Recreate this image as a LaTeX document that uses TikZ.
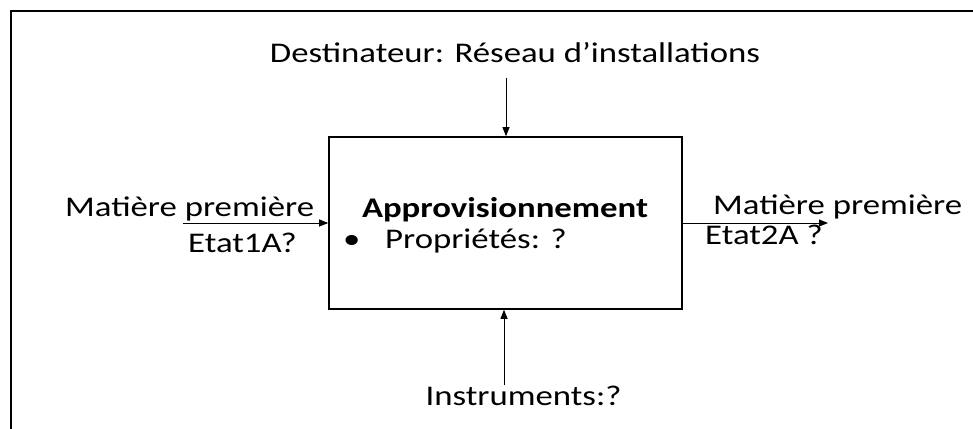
\documentclass[tikz,border=0pt]{standalone}
\usepackage{fontspec}
\setmainfont{Carlito}[FakeStretch=1.22]
\usepackage{tikz}
\usetikzlibrary{positioning,arrows.meta}

\begin{document}
\begin{tikzpicture}[x=1pt, y=1pt,
    lbl/.style={inner sep=0pt, font=\fontsize{28.5}{34}\selectfont},
    flow/.style={line width=0.9pt, -{Triangle[length=9pt, width=7pt]}}]
    \useasboundingbox (0,0) rectangle (973,428);
    \clip (0,0) rectangle (973,428);

    % Frame
    \draw[line width=2pt] (11,-20) -- (11,417) -- (990,417);

    % Process box
    \node[draw, line width=1.6pt, minimum width=353pt, minimum height=172pt, inner sep=0pt] (proc) at (505.5,205) {};
    \node[lbl, anchor=base] (title) at (505,210) {\bfseries Approvisionnement};
    \node[lbl, anchor=base west] (props) at (343,179) {\makebox[42pt][l]{•}Propriétés: ?};

    % Labels
    \node[lbl, anchor=base] (dst) at (515,365) {Destinateur: Réseau d’installations};
    \node[lbl, anchor=base] (instr) at (523.5,23) {Instruments:?};
    \node[lbl, anchor=base west] (inlbl) at (65,211) {Matière première};
    \node[lbl, anchor=base west] (instate) at (188,175) {Etat1A?};
    \node[lbl, anchor=base west] (outlbl) at (713,213) {Matière première};
    \node[lbl, anchor=base west] (outstate) at (705,183) {Etat2A ?};

    % Arrows
    \coordinate (dsttop) at (506,350);
    \coordinate (instrbot) at (504,43);
    \coordinate (inbeg) at (183,205);
    \coordinate (outend) at (828,205);
    \draw[flow] (dsttop) -- (proc.north -| dsttop);
    \draw[flow] (instrbot) -- (proc.south -| instrbot);
    \draw[flow] (inbeg) -- (proc.west);
    \draw[flow] (proc.east) -- (outend);
\end{tikzpicture}
\end{document}
